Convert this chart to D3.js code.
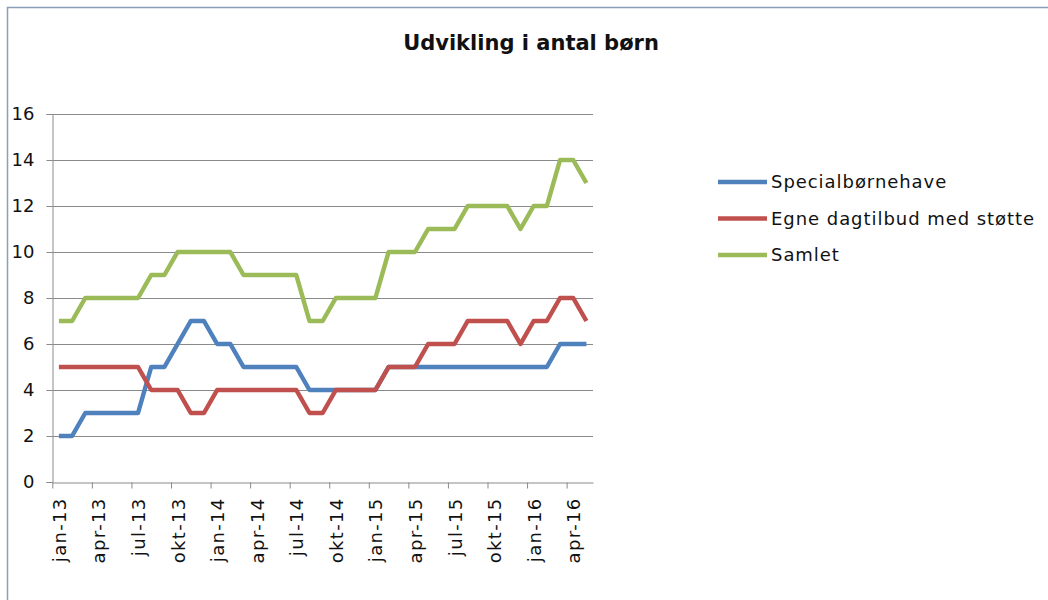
<!DOCTYPE html>
<html>
<head>
<meta charset="utf-8">
<script src="https://cdn.jsdelivr.net/npm/d3@7"></script>
<style>
  html, body { margin: 0; padding: 0; background: #ffffff; }
  svg { display: block; }
  text { font-family: "DejaVu Sans", Verdana, sans-serif; fill: #111; }
</style>
</head>
<body>
<svg id="chart" width="1048" height="600"></svg>
<script>
// ---- data ----
const months = [
  "jan-13","feb-13","mar-13","apr-13","maj-13","jun-13","jul-13","aug-13","sep-13","okt-13","nov-13","dec-13",
  "jan-14","feb-14","mar-14","apr-14","maj-14","jun-14","jul-14","aug-14","sep-14","okt-14","nov-14","dec-14",
  "jan-15","feb-15","mar-15","apr-15","maj-15","jun-15","jul-15","aug-15","sep-15","okt-15","nov-15","dec-15",
  "jan-16","feb-16","mar-16","apr-16","maj-16"
];
const tickLabels = ["jan-13","apr-13","jul-13","okt-13","jan-14","apr-14","jul-14","okt-14","jan-15","apr-15","jul-15","okt-15","jan-16","apr-16"];
const specialboernehave = [2,2,3,3,3,3,3,5,5,6,7,7, 6,6,5,5,5,5,5,4,4,4,4,4, 4,5,5,5,5,5,5,5,5,5,5,5, 5,5,6,6,6];
const egneDagtilbud     = [5,5,5,5,5,5,5,4,4,4,3,3, 4,4,4,4,4,4,4,3,3,4,4,4, 4,5,5,5,6,6,6,7,7,7,7,6, 7,7,8,8,7];
const samlet            = [7,7,8,8,8,8,8,9,9,10,10,10, 10,10,9,9,9,9,9,7,7,8,8,8, 8,10,10,10,11,11,11,12,12,12,12,11, 12,12,14,14,13];
const yTicks = [0,2,4,6,8,10,12,14,16];
const seriesNames = ["Specialbørnehave","Egne dagtilbud med støtte","Samlet"];
const seriesColors = ["#4f81bd","#c0504d","#9bbb59"];
const title = "Udvikling i antal børn";

const series = [specialboernehave, egneDagtilbud, samlet];

// ---- layout ----
const svg = d3.select("#chart");
const plot = { left: 52.3, right: 593, top: 114, bottom: 482 };

// outer border
svg.append("rect")
  .attr("x", 7.5).attr("y", 7.5)
  .attr("width", 1100).attr("height", 700)
  .attr("fill", "#ffffff")
  .attr("stroke", "#86a0b8").attr("stroke-width", 1.5);

const x = d3.scaleLinear().domain([0, months.length]).range([plot.left, plot.right]);
const y = d3.scaleLinear().domain([0, 16]).range([plot.bottom, plot.top]);

// gridlines
svg.append("g")
  .selectAll("line")
  .data(yTicks.filter(d => d > 0))
  .join("line")
  .attr("x1", plot.left).attr("x2", plot.right)
  .attr("y1", d => Math.round(y(d)) + 0.5).attr("y2", d => Math.round(y(d)) + 0.5)
  .attr("stroke", "#8a8a8a").attr("stroke-width", 1);

// y axis
const yAxis = svg.append("g")
  .attr("transform", `translate(${Math.round(plot.left) + 0.5},0)`)
  .call(d3.axisLeft(y).tickValues(yTicks).tickSize(6).tickPadding(12).tickFormat(d3.format("d")));
yAxis.select(".domain").attr("stroke", "#8a8a8a");
yAxis.selectAll(".tick line").attr("stroke", "#8a8a8a");
yAxis.selectAll(".tick text")
  .style("font-family", '"DejaVu Sans", Verdana, sans-serif')
  .style("font-size", "18px").attr("fill", "#111");

// x axis tick marks (quarter boundaries)
const quarterIdx = tickLabels.map(l => months.indexOf(l));
const xAxisTicks = svg.append("g")
  .attr("transform", `translate(0,${Math.round(plot.bottom) + 0.5})`)
  .call(d3.axisBottom(x).tickValues(quarterIdx).tickSize(6).tickSizeOuter(0).tickFormat(""));
xAxisTicks.select(".domain").attr("stroke", "#8a8a8a");
xAxisTicks.selectAll(".tick line").attr("stroke", "#8a8a8a");

// x axis labels at category centers
const xLabels = svg.append("g")
  .attr("transform", `translate(0,${Math.round(plot.bottom) + 0.5})`)
  .call(d3.axisBottom(x).tickValues(quarterIdx.map(i => i + 0.5)).tickSize(0)
        .tickFormat((d) => months[Math.floor(d)]));
xLabels.select(".domain").remove();
xLabels.selectAll(".tick text")
  .style("font-family", '"DejaVu Sans", Verdana, sans-serif')
  .style("font-size", "18px").style("letter-spacing", "1.3px").attr("fill", "#111")
  .attr("text-anchor", "end")
  .attr("transform", "rotate(-90)")
  .attr("x", -15).attr("y", 0).attr("dy", "0.36em");

// lines
const line = d3.line()
  .x((d, i) => x(i + 0.5))
  .y(d => y(d));

svg.append("g")
  .selectAll("path")
  .data(series)
  .join("path")
  .attr("d", d => line(d))
  .attr("fill", "none")
  .attr("stroke", (d, i) => seriesColors[i])
  .attr("stroke-width", 4.5)
  .attr("stroke-linejoin", "round")
  .attr("stroke-linecap", "butt");

// title
svg.append("text")
  .attr("x", 531).attr("y", 50)
  .attr("text-anchor", "middle")
  .style("font-size", "21px").style("font-weight", "bold")
  .attr("fill", "#000")
  .text(title);

// legend
const legend = svg.append("g");
const legendY = [182, 218.5, 255];
seriesNames.forEach((name, i) => {
  legend.append("line")
    .attr("x1", 718).attr("x2", 767)
    .attr("y1", legendY[i]).attr("y2", legendY[i])
    .attr("stroke", seriesColors[i]).attr("stroke-width", 4.5);
  legend.append("text")
    .attr("x", 771).attr("y", legendY[i]).attr("dy", "0.36em")
    .style("font-size", "18px").style("letter-spacing", "0.95px")
    .text(name);
});
</script>
</body>
</html>
